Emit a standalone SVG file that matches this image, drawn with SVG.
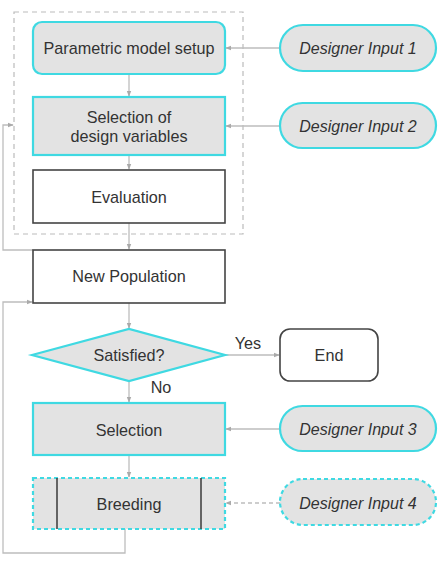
<svg xmlns="http://www.w3.org/2000/svg" width="445" height="562" viewBox="0 0 445 562">
<defs>
<style>
.t{font-family:"Liberation Sans",Arial,sans-serif;font-size:16.2px;fill:#333;text-anchor:middle;dominant-baseline:central}
.i{font-style:italic;font-size:16px}
.cy{fill:#e3e3e3;stroke:#3fd9e2;stroke-width:2.2}
.wb{fill:#fff;stroke:#444;stroke-width:1.6}
.c{fill:none;stroke:#bdbdbd;stroke-width:1.3}
</style>
<marker id="a" viewBox="0 0 8 8" refX="7" refY="4" markerWidth="6" markerHeight="6" orient="auto" markerUnits="userSpaceOnUse">
<path d="M0,1 L8,4 L0,7 Z" fill="#aaa"/>
</marker>
</defs>
<rect x="14" y="12" width="229" height="222" fill="none" stroke="#bbb" stroke-width="1.2" stroke-dasharray="5,4"/>
<g id="connectors">
<line class="c" x1="129" y1="74" x2="129" y2="96" marker-end="url(#a)"/>
<line class="c" x1="129" y1="155" x2="129" y2="169" marker-end="url(#a)"/>
<line class="c" x1="129" y1="223" x2="129" y2="249" marker-end="url(#a)"/>
<line class="c" x1="129" y1="303" x2="129" y2="328" marker-end="url(#a)"/>
<line class="c" x1="129" y1="381" x2="129" y2="402" marker-end="url(#a)"/>
<line class="c" x1="129" y1="455" x2="129" y2="477" marker-end="url(#a)"/>
<line class="c" x1="225" y1="355" x2="279" y2="355" marker-end="url(#a)"/>
<line class="c" x1="280" y1="48" x2="226" y2="48" marker-end="url(#a)"/>
<line class="c" x1="280" y1="126" x2="226" y2="126" marker-end="url(#a)"/>
<line class="c" x1="280" y1="429" x2="226" y2="429" marker-end="url(#a)"/>
<line class="c" x1="280" y1="503" x2="226" y2="503" stroke-dasharray="4,3" marker-end="url(#a)"/>
<polyline class="c" points="125,529 125,553 3,553 3,302 32,302" marker-end="url(#a)"/>
<polyline class="c" points="33,250 3,250 3,125 13,125" marker-end="url(#a)"/>
</g>
<g id="n1"><rect class="cy" x="33" y="22" width="192" height="52" rx="9"/><text class="t" x="129" y="48">Parametric model setup</text></g>
<g id="n2"><rect class="cy" x="33" y="97" width="192" height="58"/><text class="t" x="129" y="117">Selection of</text><text class="t" x="129" y="136">design variables</text></g>
<g id="n3"><rect class="wb" x="33" y="170" width="192" height="53"/><text class="t" x="129" y="197">Evaluation</text></g>
<g id="n4"><rect class="wb" x="33" y="250" width="192" height="53"/><text class="t" x="129" y="276">New Population</text></g>
<g id="n5"><polygon class="cy" points="32,355 129,329 225,355 129,381"/><text class="t" x="129" y="355">Satisfied?</text></g>
<g id="n6"><rect class="wb" x="280" y="329" width="98" height="52" rx="10"/><text class="t" x="329" y="355">End</text></g>
<g id="n7"><rect class="cy" x="33" y="403" width="192" height="52"/><text class="t" x="129" y="430">Selection</text></g>
<g id="n8"><rect class="cy" x="33" y="478" width="192" height="51" stroke-dasharray="4,3"/><line x1="57" y1="478" x2="57" y2="529" stroke="#444" stroke-width="1.6"/><line x1="201" y1="478" x2="201" y2="529" stroke="#444" stroke-width="1.6"/><text class="t" x="129" y="504">Breeding</text></g>
<g id="d1"><rect class="cy" x="280" y="25" width="156" height="46" rx="23"/><text class="t i" x="358" y="48">Designer Input 1</text></g>
<g id="d2"><rect class="cy" x="280" y="103" width="156" height="45" rx="22.5"/><text class="t i" x="358" y="126">Designer Input 2</text></g>
<g id="d3"><rect class="cy" x="280" y="406" width="156" height="45" rx="22.5"/><text class="t i" x="358" y="429">Designer Input 3</text></g>
<g id="d4"><rect class="cy" x="280" y="479" width="156" height="46" rx="23" stroke-dasharray="4,3"/><text class="t i" x="358" y="503">Designer Input 4</text></g>
<text class="t" x="248" y="343">Yes</text>
<text class="t" x="161" y="387">No</text>
</svg>
